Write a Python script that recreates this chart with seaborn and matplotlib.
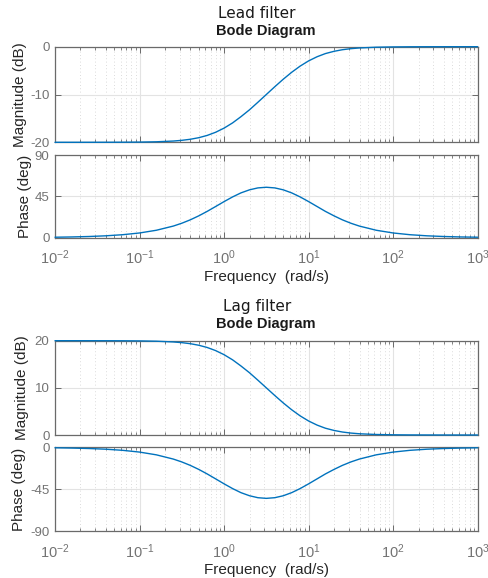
import numpy as np
import pandas as pd
import matplotlib
matplotlib.use('Agg')
import matplotlib.pyplot as plt
from matplotlib.ticker import FixedLocator, LogLocator, NullFormatter, LogFormatterSciNotation
import seaborn as sns

# Frequencies (rad/s)
freq = [0.01, 0.0158, 0.0251, 0.0398, 0.0631, 0.1, 0.158, 0.251, 0.316, 0.398,
        0.501, 0.631, 0.794, 1.0, 1.26, 1.58, 2.0, 2.51, 3.16, 3.98,
        5.01, 6.31, 7.94, 10, 12.6, 15.8, 20, 25.1, 31.6, 39.8,
        63.1, 100, 158, 251, 398, 631, 1000]

lead_mag = [-20.0, -20.0, -19.997, -19.993, -19.983, -19.957, -19.893, -19.737, -19.590, -19.368,
            -19.038, -18.562, -17.902, -17.033, -15.943, -14.653, -13.196, -11.627, -10.0, -8.373,
            -6.804, -5.347, -4.057, -2.967, -2.098, -1.438, -0.962, -0.632, -0.410, -0.263,
            -0.107, -0.043, -0.017, -0.007, -0.003, -0.001, 0.0]
lead_phase = [0.52, 0.82, 1.30, 2.05, 3.25, 5.14, 8.10, 12.66, 15.74, 19.43,
              23.75, 28.64, 33.92, 39.29, 44.37, 48.74, 52.10, 54.19, 54.90, 54.19,
              52.10, 48.74, 44.37, 39.29, 33.92, 28.64, 23.75, 19.43, 15.74, 12.66,
              8.10, 5.14, 3.25, 2.05, 1.30, 0.82, 0.52]
lag_mag = [20.0, 20.0, 19.997, 19.993, 19.983, 19.957, 19.893, 19.737, 19.590, 19.368,
           19.038, 18.562, 17.902, 17.033, 15.943, 14.653, 13.196, 11.627, 10.0, 8.373,
           6.804, 5.347, 4.057, 2.967, 2.098, 1.438, 0.962, 0.632, 0.410, 0.263,
           0.107, 0.043, 0.017, 0.007, 0.003, 0.001, 0.0]
lag_phase = [-0.52, -0.82, -1.30, -2.05, -3.25, -5.14, -8.10, -12.66, -15.74, -19.43,
             -23.75, -28.64, -33.92, -39.29, -44.37, -48.74, -52.10, -54.19, -54.90, -54.19,
             -52.10, -48.74, -44.37, -39.29, -33.92, -28.64, -23.75, -19.43, -15.74, -12.66,
             -8.10, -5.14, -3.25, -2.05, -1.30, -0.82, -0.52]

x_ticks = [1e-2, 1e-1, 1e0, 1e1, 1e2, 1e3]
lead_mag_ticks = [-20, -10, 0]
lead_phase_ticks = [0, 45, 90]
lag_mag_ticks = [0, 10, 20]
lag_phase_ticks = [-90, -45, 0]

sns.set_style('white')
plt.rcParams['font.family'] = ['Liberation Sans', 'DejaVu Sans']
plt.rcParams['axes.unicode_minus'] = False
plt.rcParams['mathtext.fontset'] = 'custom'
plt.rcParams['mathtext.rm'] = 'Liberation Sans'
plt.rcParams['mathtext.it'] = 'Liberation Sans:italic'
plt.rcParams['mathtext.bf'] = 'Liberation Sans:bold'

W, H = 489, 578
fig = plt.figure(figsize=(W / 100, H / 100), dpi=100)

def rect(l, t, r, b):
    return [l / W, 1 - b / H, (r - l) / W, (b - t) / H]

LINE = '#0072BD'
SPINE = '#6a6a6a'
TICKC = '#737373'
LABC = '#262626'

def style(ax, yticks, ylim, ylabel, label_px, show_x):
    ax.set_xscale('log')
    ax.set_xlim(1e-2, 1e3)
    ax.set_ylim(*ylim)
    ax.xaxis.set_major_locator(FixedLocator(x_ticks))
    ax.xaxis.set_minor_locator(LogLocator(base=10, subs=np.arange(2, 10), numticks=20))
    ax.xaxis.set_minor_formatter(NullFormatter())
    if show_x:
        ax.xaxis.set_major_formatter(LogFormatterSciNotation())
    else:
        ax.xaxis.set_major_formatter(NullFormatter())
    ax.yaxis.set_major_locator(FixedLocator(yticks))
    ax.grid(True, which='major', color='#e3e3e3', lw=0.8, ls='-')
    ax.grid(True, which='minor', axis='x', color='#cfcfcf', lw=0.6, ls=(0, (1, 3)))
    ax.set_axisbelow(True)
    for s in ax.spines.values():
        s.set_color(SPINE)
        s.set_linewidth(0.9)
    ax.tick_params(which='both', direction='in', top=True, right=True, bottom=True, left=True,
                   colors=SPINE, labelcolor=TICKC)
    ax.tick_params(axis='y', labelsize=9.5, pad=4)
    ax.tick_params(axis='x', labelsize=10.5, pad=8)
    ax.tick_params(which='major', length=4, width=0.7)
    ax.tick_params(which='minor', length=2.5, width=0.6)
    ax.set_xlabel('')
    ax.set_ylabel(ylabel, fontsize=11, color=LABC, va='center')
    ax.yaxis.set_label_coords((label_px - 55) / 422.7, 0.5)
    if show_x:
        ax.set_xlabel('Frequency  (rad/s)', fontsize=11, color=LABC, labelpad=2)

def plot(ax, y):
    df = pd.DataFrame({'freq': freq, 'val': y})
    sns.lineplot(data=df, x='freq', y='val', ax=ax, color=LINE, lw=1.0, sort=False,
                 clip_on=False, zorder=5)

ax1 = fig.add_axes(rect(55, 46.7, 477.7, 142.3))
plot(ax1, lead_mag)
style(ax1, lead_mag_ticks, (-20, 0), 'Magnitude (dB)', 20, False)

ax2 = fig.add_axes(rect(55, 155, 477.7, 237.7))
plot(ax2, lead_phase)
style(ax2, lead_phase_ticks, (0, 90), 'Phase (deg)', 25, True)

ax3 = fig.add_axes(rect(55, 340.7, 477.7, 435))
plot(ax3, lag_mag)
style(ax3, lag_mag_ticks, (0, 20), 'Magnitude (dB)', 21.7, False)

ax4 = fig.add_axes(rect(55, 447.3, 477.7, 531))
plot(ax4, lag_phase)
style(ax4, lag_phase_ticks, (-90, 0), 'Phase (deg)', 19.5, True)

fig.text(257 / W, 1 - 14 / H, 'Lead filter', ha='center', va='center', fontsize=11,
         family=['DejaVu Sans'], color='#1a1a1a')
fig.text(266 / W, 1 - 31 / H, 'Bode Diagram', ha='center', va='center', fontsize=10.5,
         fontweight='bold', color='#1a1a1a')
fig.text(257 / W, 1 - 307 / H, 'Lag filter', ha='center', va='center', fontsize=11,
         family=['DejaVu Sans'], color='#1a1a1a')
fig.text(266 / W, 1 - 324 / H, 'Bode Diagram', ha='center', va='center', fontsize=10.5,
         fontweight='bold', color='#1a1a1a')

fig.savefig('out.png', dpi=100)
